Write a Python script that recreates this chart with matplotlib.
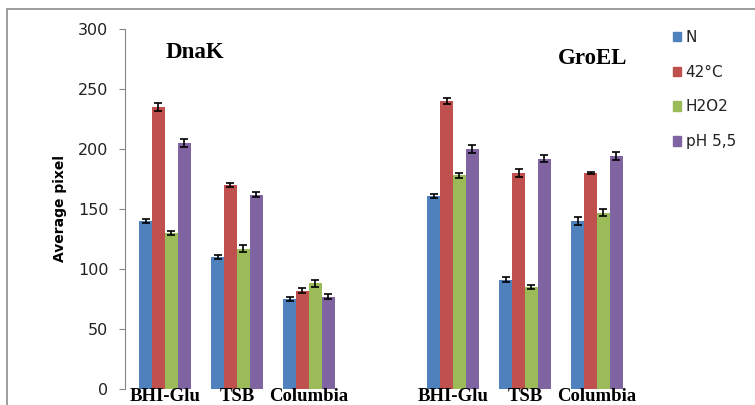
import numpy as np
import matplotlib.pyplot as plt
from matplotlib.patches import Rectangle

# media groups: DnaK on the left, GroEL on the right, empty slot between
media = ['BHI-Glu', 'TSB', 'Columbia', '', 'BHI-Glu', 'TSB', 'Columbia']
conditions = ['N', '42°C', 'H2O2', 'pH 5,5']
colors = ['#4F81BD', '#C0504D', '#9BBB59', '#8064A2']

n_vals = [140, 110, 75, np.nan, 161, 91, 140]
heat_vals = [235, 170, 82, np.nan, 240, 180, 180]
h2o2_vals = [130, 117, 88, np.nan, 178, 85, 147]
ph_vals = [205, 162, 77, np.nan, 200, 192, 194]

n_err = [2, 1.5, 2, np.nan, 1.5, 2, 3]
heat_err = [3, 2, 2, np.nan, 2.5, 3.5, 1]
h2o2_err = [1.5, 3, 3, np.nan, 2, 2, 3]
ph_err = [3, 2, 2, np.nan, 3.5, 3, 3.5]

series = [n_vals, heat_vals, h2o2_vals, ph_vals]
errors = [n_err, heat_err, h2o2_err, ph_err]

fig = plt.figure(figsize=(7.55, 4.05), dpi=100)
ax = fig.add_axes([125 / 755, 1 - 389 / 405, (633 - 125) / 755, (389 - 29) / 405])

x = np.arange(len(media))
w = 0.18
for i, (vals, err) in enumerate(zip(series, errors)):
    ax.bar(x + (i - 1.5) * w, vals, w, color=colors[i], label=conditions[i],
           yerr=err, error_kw=dict(ecolor='black', elinewidth=1.2, capsize=3, capthick=1.2))

ax.set_xlim(-0.555, 6.5)
ax.set_ylim(0, 300)
ax.set_yticks(np.arange(0, 301, 50))
ax.tick_params(axis='y', direction='out', length=4, color='#868686',
               labelsize=11.5, labelcolor='#222222', pad=8)
ax.set_xticks(x)
ax.set_xticklabels(media, fontfamily='Liberation Serif', fontweight='bold', fontsize=13.5)
ax.tick_params(axis='x', length=0, pad=-1)
for s in ['top', 'right', 'bottom']:
    ax.spines[s].set_visible(False)
ax.spines['left'].set_color('#868686')
ax.set_ylabel('Average pixel', fontweight='bold', fontsize=10)
ax.yaxis.set_label_coords(-0.115, 0.5)

fig.text(195 / 755, 1 - 52 / 405, 'DnaK', ha='center', va='center',
         fontfamily='Liberation Serif', fontweight='bold', fontsize=16.5)
fig.text(593 / 755, 1 - 59 / 405, 'GroEL', ha='center', va='center',
         fontfamily='Liberation Serif', fontweight='bold', fontsize=16.5)

labels = conditions
handles = [Rectangle((0, 0), 1, 1, color=c) for c in colors]
fig.legend(handles, labels, loc='upper left', bbox_to_anchor=(659 / 755, 1 - 16 / 405),
           frameon=False, fontsize=11, handlelength=0.55, handleheight=0.55,
           handletextpad=0.3, labelspacing=1.3, labelcolor='#222222')

# outer chart frame
fig.add_artist(Rectangle((7 / 755, -0.1), 1.1, 1.1 - 9 / 405,
                         transform=fig.transFigure, fill=False,
                         edgecolor='#8c8c8c', linewidth=1.2))

fig.savefig('out.png', dpi=100)
